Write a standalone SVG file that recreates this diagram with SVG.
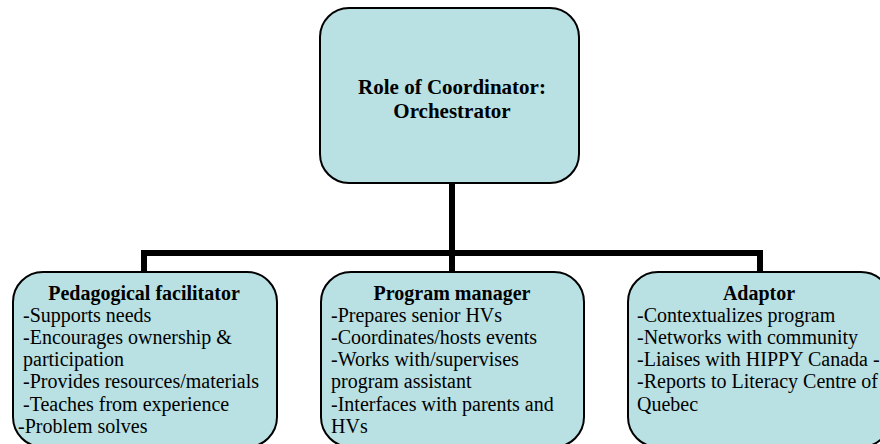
<svg xmlns="http://www.w3.org/2000/svg" width="880" height="444" viewBox="0 0 880 444">
  <style>
    .box { fill: #B9E0E3; stroke: #000; stroke-width: 2; }
    .wire { fill: none; stroke: #000; stroke-width: 6; }
    text { font-family: "Liberation Serif", "Times New Roman", serif; font-size: 20px; fill: #000; }
    .head { font-weight: bold; text-anchor: middle; }
    .root { font-size: 21px; }
  </style>
  <rect width="880" height="444" fill="#fff"/>

  <!-- connectors -->
  <g id="connectors">
    <path class="wire" d="M452 183 V272"/>
    <path class="wire" d="M144 271 V253 H760 V271"/>
  </g>

  <!-- root -->
  <g id="coordinator">
    <rect class="box" x="320" y="8" width="259" height="175" rx="29"/>
    <text class="head root" x="452" y="94">Role of Coordinator:</text>
    <text class="head root" x="452" y="118">Orchestrator</text>
  </g>

  <!-- children -->
  <g id="pedagogical">
    <rect class="box" x="13" y="272" width="264" height="175" rx="30"/>
    <text class="head" x="144" y="300">Pedagogical facilitator</text>
    <text x="23" y="322">-Supports needs</text>
    <text x="23" y="344">-Encourages ownership &amp;</text>
    <text x="23" y="366">participation</text>
    <text x="23" y="388">-Provides resources/materials</text>
    <text x="23" y="411">-Teaches from experience</text>
    <text x="18" y="433">-Problem solves</text>
  </g>

  <g id="manager">
    <rect class="box" x="321" y="272" width="263" height="175" rx="30"/>
    <text class="head" x="452" y="300">Program manager</text>
    <text x="331" y="322">-Prepares senior HVs</text>
    <text x="331" y="344">-Coordinates/hosts events</text>
    <text x="331" y="366">-Works with/supervises</text>
    <text x="331" y="388">program assistant</text>
    <text x="331" y="411">-Interfaces with parents and</text>
    <text x="331" y="433">HVs</text>
  </g>

  <g id="adaptor">
    <rect class="box" x="628" y="272" width="263" height="175" rx="30"/>
    <text class="head" x="759" y="300">Adaptor</text>
    <text x="637" y="322">-Contextualizes program</text>
    <text x="637" y="344">-Networks with community</text>
    <text x="637" y="366">-Liaises with HIPPY Canada -</text>
    <text x="637" y="388">-Reports to Literacy Centre of</text>
    <text x="637" y="411">Quebec</text>
  </g>
</svg>
